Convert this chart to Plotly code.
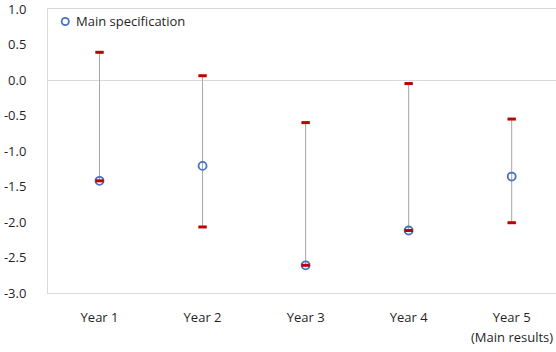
import plotly.graph_objects as go

# Estimates by horizon: upper bound, lower bound, main specification
years = ["Year 1", "Year 2", "Year 3", "Year 4", "Year 5"]
upper = [0.39, 0.06, -0.60, -0.05, -0.55]
lower = [-1.42, -2.07, -2.61, -2.12, -2.01]
main_spec = [-1.42, -1.21, -2.61, -2.12, -1.36]
ytick_vals = [1.0, 0.5, 0.0, -0.5, -1.0, -1.5, -2.0, -2.5, -3.0]
ytick_text = ["1.0", "0.5", "0.0", "-0.5", "-1.0", "-1.5", "-2.0", "-2.5", "-3.0"]

FONT = "Open Sans, Noto Sans, sans-serif"
TXT = "#1f1f1f"
RED = "#c00000"
BLUE = "#4472c4"
FS = 13

xs = list(range(len(years)))

fig = go.Figure()

# grey range lines from lower to upper bound
lx, ly = [], []
for i in xs:
    lx += [i, i, None]
    ly += [lower[i], upper[i], None]
fig.add_trace(go.Scatter(x=lx, y=ly, mode="lines", line=dict(color="#a6a6a6", width=1),
                         hoverinfo="skip", showlegend=False))

# main specification point estimates
fig.add_trace(go.Scatter(x=xs, y=main_spec, mode="markers", name="Main specification",
                         showlegend=False,
                         marker=dict(symbol="circle-open", size=8, color=BLUE,
                                     line=dict(color=BLUE, width=1.8))))

# bound caps
fig.add_trace(go.Scatter(x=xs + xs, y=upper + lower, mode="markers", showlegend=False,
                         marker=dict(symbol="line-ew", size=6,
                                     line=dict(color=RED, width=3))))

# legend key: open circle plus label, top-left inside the plot
fig.add_shape(type="circle", xref="paper", yref="paper",
              xsizemode="pixel", ysizemode="pixel",
              xanchor=0.034, yanchor=0.956, x0=-3.6, x1=3.6, y0=-3.6, y1=3.6,
              line=dict(color=BLUE, width=1.8), fillcolor="rgba(0,0,0,0)")
fig.add_annotation(x=0.051, y=0.956, xref="paper", yref="paper", text="Main specification",
                   showarrow=False, xanchor="left", yanchor="middle",
                   font=dict(family=FONT, size=FS, color=TXT))

fig.add_annotation(x=4, y=-0.155, xref="x", yref="paper", text="(Main results)",
                   showarrow=False, font=dict(family=FONT, size=FS, color=TXT),
                   xanchor="center", yanchor="middle")

fig.update_layout(
    width=556, height=352,
    margin=dict(l=48, r=0, t=9, b=59),
    paper_bgcolor="white", plot_bgcolor="white",
    font=dict(family=FONT, size=FS, color=TXT),
    showlegend=False,
    xaxis=dict(range=[-0.5, 4.43], tickvals=xs, ticktext=years, showgrid=False,
               zeroline=False, showline=True, linecolor="#d9d9d9", linewidth=1,
               mirror=True, ticks="outside", ticklen=12, tickcolor="rgba(0,0,0,0)"),
    yaxis=dict(range=[-3.0, 1.0], tickvals=ytick_vals, ticktext=ytick_text,
               showgrid=False, zeroline=True, zerolinecolor="#d9d9d9", zerolinewidth=1,
               showline=True, linecolor="#d9d9d9", linewidth=1,
               ticklabeloverflow="allow",
               ticks="outside", ticklen=18, tickcolor="rgba(0,0,0,0)"),
)

fig.write_html("out.html")
